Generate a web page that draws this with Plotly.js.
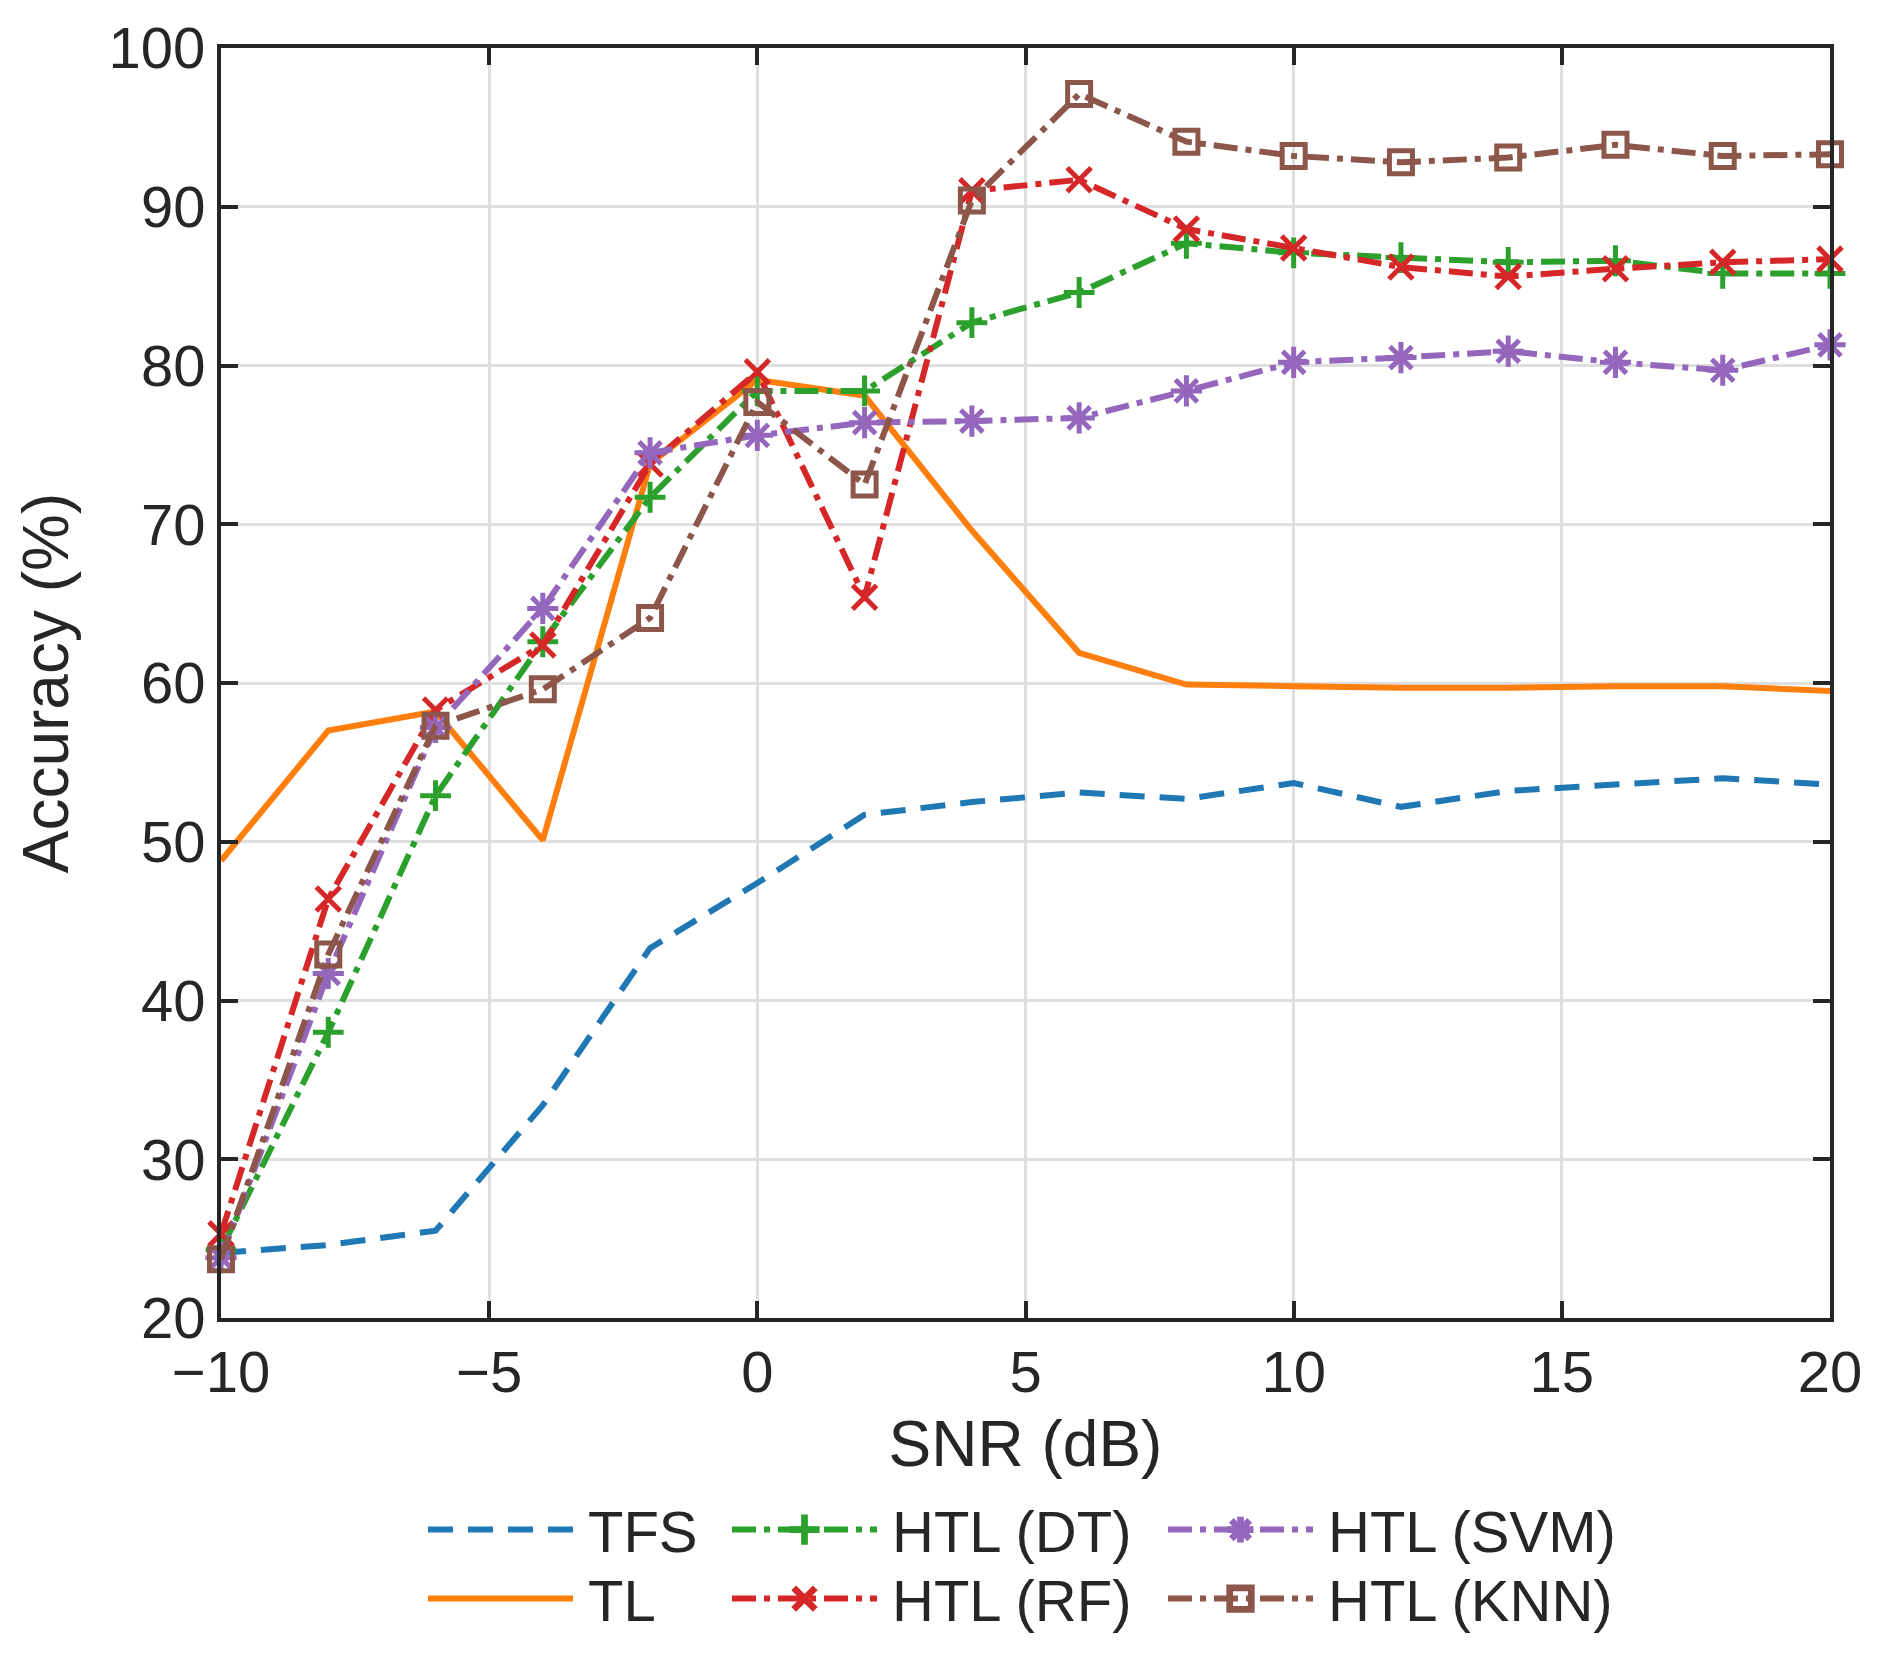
<!DOCTYPE html>
<html>
<head>
<meta charset="utf-8">
<script src="https://cdn.plot.ly/plotly-3.0.1.min.js"></script>
<style>
  html, body { margin: 0; padding: 0; background: #ffffff; }
  #chart { width: 1889px; height: 1654px; }
</style>
</head>
<body>
<div id="chart"></div>
<script>
// ---- data ----
var snr = [-10, -8, -6, -4, -2, 0, 2, 4, 6, 8, 10, 12, 14, 16, 18, 20];

var accTFS    = [24.1, 24.6, 25.5, 33.4, 43.3, 47.4, 51.7, 52.5, 53.1, 52.7, 53.7, 52.2, 53.2, 53.6, 54.0, 53.6];
var accTL     = [48.8, 57.0, 58.2, 50.1, 73.8, 79.1, 78.1, 69.6, 61.9, 59.9, 59.8, 59.7, 59.7, 59.8, 59.8, 59.5];
var accHTL_DT = [24.3, 38.0, 52.9, 62.6, 71.7, 78.4, 78.4, 82.7, 84.6, 87.7, 87.1, 86.8, 86.5, 86.6, 85.8, 85.8];
var accHTL_RF = [25.3, 46.4, 58.3, 62.4, 73.8, 79.6, 65.4, 91.0, 91.7, 88.6, 87.4, 86.2, 85.6, 86.1, 86.5, 86.7];
var accHTL_SVM= [23.8, 41.7, 57.2, 64.7, 74.5, 75.6, 76.4, 76.5, 76.7, 78.4, 80.2, 80.5, 80.9, 80.2, 79.7, 81.3];
var accHTL_KNN= [23.7, 42.9, 57.3, 59.6, 64.1, 77.7, 72.5, 90.4, 97.1, 94.1, 93.2, 92.8, 93.1, 93.9, 93.2, 93.3];

var seriesNames = ['TFS', 'TL', 'HTL (DT)', 'HTL (RF)', 'HTL (SVM)', 'HTL (KNN)'];

var xTickVals = [-10, -5, 0, 5, 10, 15, 20];
var xTickText = ['\u221210', '\u22125', '0', '5', '10', '15', '20'];
var yTickVals = [20, 30, 40, 50, 60, 70, 80, 90, 100];
var yTickText = ['20', '30', '40', '50', '60', '70', '80', '90', '100'];

// ---- styling ----
var FONT = 'Liberation Sans, Arial, Helvetica, sans-serif';
var INK = '#262626';
var DASHDOT = '24px,8px,6px,8px';
var LW = 6;

function mk(name, y, color, dash, symbol, msize, legendId) {
  var t = {
    type: 'scatter',
    x: snr,
    y: y,
    name: name,
    legend: legendId,
    mode: symbol ? 'lines+markers' : 'lines',
    line: { color: color, width: LW, dash: dash },
    cliponaxis: false
  };
  if (symbol) {
    t.marker = { symbol: symbol, size: msize, color: color, line: { color: color, width: 5 } };
  }
  return t;
}

var traces = [
  mk(seriesNames[0], accTFS,     '#1f77b4', '25px,15px', null, 0, 'legend'),
  mk(seriesNames[1], accTL,      '#ff7f0e', 'solid',     null, 0, 'legend2'),
  mk(seriesNames[2], accHTL_DT,  '#2ca02c', DASHDOT, 'cross-thin-open', 22, 'legend3'),
  mk(seriesNames[3], accHTL_RF,  '#d62728', DASHDOT, 'x-thin-open',     24, 'legend4'),
  mk(seriesNames[4], accHTL_SVM, '#9467bd', DASHDOT, 'asterisk-open',   26, 'legend5'),
  mk(seriesNames[5], accHTL_KNN, '#8c564b', DASHDOT, 'square-open',     23, 'legend6')
];

// plot area in px: x 221..1830, y 47.5..1318
var L = 221, R = 1830, T = 47.5, B = 1318, W = 1889, H = 1654;
function px2x(px) { return (px - L) / (R - L); }
function py2y(py) { return (B - py) / (B - T); }

function legendAt(lineStartPx, rowPx) {
  return {
    x: px2x(lineStartPx - 5), xanchor: 'left',
    y: py2y(rowPx), yanchor: 'middle',
    orientation: 'v',
    bgcolor: 'rgba(0,0,0,0)',
    borderwidth: 0,
    itemwidth: 155,
    font: { family: FONT, size: 58, color: INK }
  };
}

var axisCommon = {
  showline: true, linecolor: INK, linewidth: 4, mirror: 'ticks',
  ticks: 'inside', ticklen: 17, tickwidth: 4, tickcolor: INK,
  showgrid: true, gridcolor: '#dfdfdf', gridwidth: 3,
  zeroline: false, automargin: false,
  tickfont: { family: FONT, size: 58, color: INK }
};

var layout = {
  width: W, height: H,
  paper_bgcolor: '#ffffff', plot_bgcolor: '#ffffff',
  margin: { l: L, r: W - R, t: T, b: H - B, autoexpand: false },
  font: { family: FONT, color: INK },
  showlegend: true,
  xaxis: Object.assign({}, axisCommon, {
    range: [-10, 20], tickmode: 'array', tickvals: xTickVals, ticktext: xTickText,
    title: { text: 'SNR (dB)', font: { family: FONT, size: 64, color: INK }, standoff: 20 }
  }),
  yaxis: Object.assign({}, axisCommon, {
    range: [20, 100], tickmode: 'array', tickvals: yTickVals, ticktext: yTickText,
    title: { text: 'Accuracy (%)', font: { family: FONT, size: 64, color: INK }, standoff: 20 }
  }),
  legend:  legendAt(428, 1530),
  legend2: legendAt(428, 1599),
  legend3: legendAt(732, 1530),
  legend4: legendAt(732, 1599),
  legend5: legendAt(1168, 1530),
  legend6: legendAt(1168, 1599)
};

Plotly.newPlot('chart', traces, layout, { staticPlot: true, displayModeBar: false }).then(function (gd) {
  // lengthen the legend sample lines to match the reference
  var paths = gd.querySelectorAll('.legendlines path');
  paths.forEach(function (p) { p.setAttribute('d', 'M5,0h145'); });
  var pts = gd.querySelectorAll('.legendsymbols path.scatterpts');
  pts.forEach(function (p) { p.setAttribute('transform', 'translate(77.5,0) scale(1.35)'); });
});
</script>
</body>
</html>
